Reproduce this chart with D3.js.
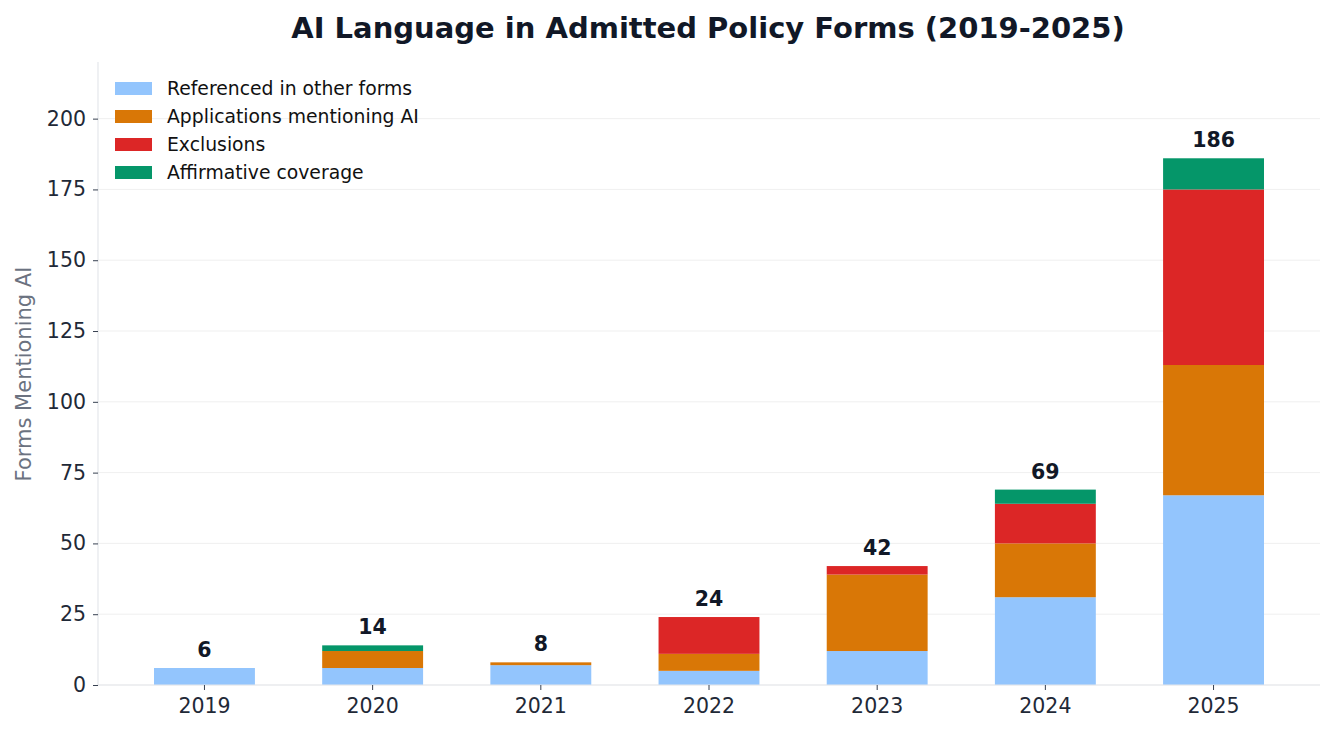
<!DOCTYPE html>
<html><head><meta charset="utf-8">
<script src="https://cdn.jsdelivr.net/npm/d3@7"></script>
<style>body{margin:0;background:#fff;}svg{display:block;font-family:"DejaVu Sans",sans-serif;}</style>
</head><body><svg id="c" width="1335" height="735"></svg>
<script>
const years = ["2019","2020","2021","2022","2023","2024","2025"];
const referenced = [6, 6, 7, 5, 12, 31, 67];
const applications = [0, 6, 1, 6, 27, 19, 46];
const exclusions = [0, 0, 0, 13, 3, 14, 62];
const affirmative = [0, 2, 0, 0, 0, 5, 11];
const seriesNames = ["Referenced in other forms","Applications mentioning AI","Exclusions","Affirmative coverage"];
const seriesKeys = ["referenced","applications","exclusions","affirmative"];
const colors = ["#93c5fd","#d97706","#dc2626","#059669"];
const yTicks = [0,25,50,75,100,125,150,175,200];

const rows = years.map((y,i)=>({year:y, referenced:referenced[i], applications:applications[i], exclusions:exclusions[i], affirmative:affirmative[i]}));
const totals = rows.map(r=>seriesKeys.reduce((s,k)=>s+r[k],0));

const svg = d3.select("#c");
const L=98, R=1320, T=62, B=685;
const x = d3.scaleBand().domain(years).range([L,R]).paddingInner(0.4).paddingOuter(0.333);
const y = d3.scaleLinear().domain([0,220]).range([B,T]);

// grid
svg.append("g").selectAll("line").data(yTicks).join("line")
  .attr("x1",L).attr("x2",R).attr("y1",d=>y(d)).attr("y2",d=>y(d))
  .attr("stroke","#ebebeb").attr("stroke-width",0.8);

const stack = d3.stack().keys(seriesKeys)(rows);
svg.append("g").selectAll("g").data(stack).join("g")
  .attr("fill",(d,i)=>colors[i])
  .selectAll("rect").data(d=>d).join("rect")
  .attr("x",d=>x(d.data.year)).attr("width",x.bandwidth())
  .attr("y",d=>y(d[1])).attr("height",d=>y(d[0])-y(d[1]));

// spines
svg.append("line").attr("x1",L).attr("x2",L).attr("y1",T).attr("y2",B).attr("stroke","#e5e7eb").attr("stroke-width",1.2);
svg.append("line").attr("x1",L).attr("x2",R).attr("y1",B).attr("y2",B).attr("stroke","#e5e7eb").attr("stroke-width",1.2);

// axes
const yAxis = svg.append("g").attr("transform",`translate(${L},0)`)
  .call(d3.axisLeft(y).tickValues(yTicks).tickSize(5).tickPadding(7));
yAxis.select(".domain").remove();
yAxis.selectAll("line").attr("stroke","#374151");
yAxis.selectAll("text").attr("font-size",20.5).attr("fill","#1f2937").attr("font-family","DejaVu Sans");

const xAxis = svg.append("g").attr("transform",`translate(0,${B})`)
  .call(d3.axisBottom(x).tickSize(5).tickPadding(8));
xAxis.select(".domain").remove();
xAxis.selectAll("line").attr("stroke","#374151");
xAxis.selectAll("text").attr("font-size",20.5).attr("fill","#1f2937").attr("font-family","DejaVu Sans");

// totals
svg.append("g").selectAll("text").data(rows).join("text")
  .attr("x",d=>x(d.year)+x.bandwidth()/2)
  .attr("y",(d,i)=>y(totals[i])-11)
  .attr("text-anchor","middle").attr("font-size",20.5).attr("font-weight","bold").attr("fill","#111827")
  .text((d,i)=>totals[i]);

// title
svg.append("text").attr("x",708).attr("y",38).attr("text-anchor","middle")
  .attr("font-size",29).attr("font-weight","bold").attr("fill","#111827")
  .text("AI Language in Admitted Policy Forms (2019-2025)");

// y label
svg.append("text").attr("transform","translate(31,374) rotate(-90)").attr("text-anchor","middle")
  .attr("font-size",21).attr("fill","#6b7280").text("Forms Mentioning AI");

// legend
const lg = svg.append("g").selectAll("g").data(seriesNames).join("g")
  .attr("transform",(d,i)=>`translate(115,${88+i*28})`);
lg.append("rect").attr("x",0).attr("y",-6).attr("width",37).attr("height",13).attr("fill",(d,i)=>colors[i]);
lg.append("text").attr("x",52).attr("y",6.5).attr("font-size",18.8).attr("fill","#111").text(d=>d);
</script></body></html>
